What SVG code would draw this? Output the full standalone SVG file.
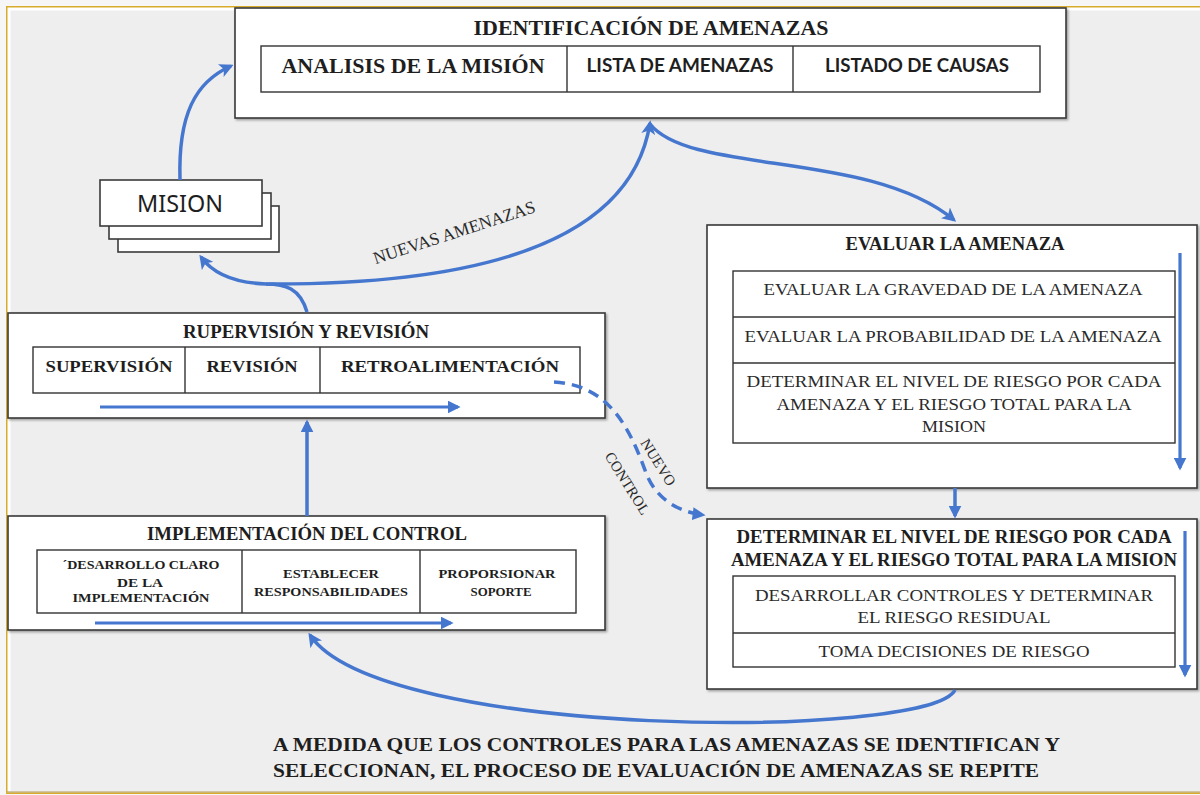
<svg xmlns="http://www.w3.org/2000/svg" width="1200" height="795" viewBox="0 0 1200 795">
<defs>
<style>
.box{fill:#ffffff;stroke:#3a3a3a;stroke-width:1.6}
.cell{fill:#ffffff;stroke:#333333;stroke-width:1.4}
.sb{font-family:"Liberation Serif",serif;font-weight:bold;fill:#1e1e1e}
.sr{font-family:"Liberation Serif",serif;fill:#2a2a2a}
.ss{font-family:Lato,"Liberation Sans",sans-serif;font-weight:bold;fill:#1e1e1e}
.conn{fill:none;stroke:#4677cf;stroke-width:3.5}
.thin{fill:none;stroke:#4677cf;stroke-width:3.2}
.dash{fill:none;stroke:#4677cf;stroke-width:3.5;stroke-dasharray:11 7}
</style>
<marker id="ah" viewBox="0 0 10 10" refX="8" refY="5" markerWidth="14" markerHeight="14" markerUnits="userSpaceOnUse" orient="auto">
<path d="M0,0 L10,5 L0,10 L2.5,5 z" fill="#4677cf"/>
</marker>
<marker id="ah2" viewBox="0 0 10 10" refX="8" refY="5" markerWidth="13" markerHeight="13" markerUnits="userSpaceOnUse" orient="auto">
<path d="M0,0 L10,5 L0,10 z" fill="#4677cf"/>
</marker>
<filter id="sh" x="-5%" y="-5%" width="110%" height="115%">
<feDropShadow dx="1.5" dy="1.5" stdDeviation="1" flood-color="#000" flood-opacity="0.35"/>
</filter>
</defs>

<!-- frame -->
<rect x="0" y="0" width="1200" height="795" fill="#f6f6f6"/>
<rect x="7" y="7" width="1200" height="786" fill="#eeeeee" stroke="#d8ac2a" stroke-width="2"/>
<path d="M9,791 L9,9 L1200,9" fill="none" stroke="#ffffff" stroke-width="3"/>
<path d="M7,792 L1200,792" stroke="#c9b78a" stroke-width="1.5"/>

<!-- Identificacion -->
<g id="identificacion">
<rect class="box" x="235" y="8" width="831" height="110" filter="url(#sh)"/>
<text class="sb" x="651" y="35" font-size="20" text-anchor="middle" textLength="355" lengthAdjust="spacingAndGlyphs">IDENTIFICACIÓN  DE AMENAZAS</text>
<rect class="cell" x="261" y="46" width="779" height="46"/>
<line x1="567" y1="46" x2="567" y2="92" stroke="#333" stroke-width="1.4"/>
<line x1="793" y1="46" x2="793" y2="92" stroke="#333" stroke-width="1.4"/>
<text class="sb" x="413" y="73" font-size="21" text-anchor="middle" textLength="263" lengthAdjust="spacingAndGlyphs">ANALISIS  DE LA MISIÓN</text>
<text class="ss" x="680" y="72" font-size="18" text-anchor="middle" textLength="187" lengthAdjust="spacingAndGlyphs">LISTA DE AMENAZAS</text>
<text class="ss" x="917" y="72" font-size="18" text-anchor="middle" textLength="184" lengthAdjust="spacingAndGlyphs">LISTADO DE CAUSAS</text>
</g>

<!-- Mision -->
<g id="mision">
<rect class="box" x="118" y="206" width="161" height="46"/>
<rect class="box" x="109" y="193" width="162" height="46"/>
<rect class="box" x="100" y="180" width="162" height="46"/>
<text x="180" y="212" font-family="'Noto Sans','Open Sans',sans-serif" font-size="24" fill="#1e1e1e" text-anchor="middle" textLength="86" lengthAdjust="spacingAndGlyphs">MISION</text>
</g>

<!-- Rupervision -->
<g id="rupervision">
<rect class="box" x="8" y="313" width="597" height="105" filter="url(#sh)"/>
<text class="sb" x="306" y="338" font-size="18" text-anchor="middle" textLength="246" lengthAdjust="spacingAndGlyphs">RUPERVISIÓN Y REVISIÓN</text>
<rect class="cell" x="33" y="347" width="547" height="46"/>
<line x1="185" y1="347" x2="185" y2="393" stroke="#333" stroke-width="1.4"/>
<line x1="320" y1="347" x2="320" y2="393" stroke="#333" stroke-width="1.4"/>
<text class="sb" x="109" y="372" font-size="17" text-anchor="middle" textLength="127" lengthAdjust="spacingAndGlyphs">SUPERVISIÓN</text>
<text class="sb" x="252" y="372" font-size="17" text-anchor="middle" textLength="91" lengthAdjust="spacingAndGlyphs">REVISIÓN</text>
<text class="sb" x="450" y="372" font-size="17" text-anchor="middle" textLength="218" lengthAdjust="spacingAndGlyphs">RETROALIMENTACIÓN</text>
<path class="thin" d="M100,407 L458,407" marker-end="url(#ah2)"/>
</g>

<!-- Implementacion -->
<g id="implementacion">
<rect class="box" x="8" y="516" width="597" height="114" filter="url(#sh)"/>
<text class="sb" x="307" y="540" font-size="19" text-anchor="middle" textLength="320" lengthAdjust="spacingAndGlyphs">IMPLEMENTACIÓN DEL CONTROL</text>
<rect class="cell" x="37" y="550" width="539" height="63"/>
<line x1="242" y1="550" x2="242" y2="613" stroke="#333" stroke-width="1.4"/>
<line x1="420" y1="550" x2="420" y2="613" stroke="#333" stroke-width="1.4"/>
<text class="sb" x="141" y="569" font-size="12.5" text-anchor="middle" textLength="157" lengthAdjust="spacingAndGlyphs">´DESARROLLO CLARO</text>
<text class="sb" x="140" y="587" font-size="12.5" text-anchor="middle" textLength="46" lengthAdjust="spacingAndGlyphs">DE  LA</text>
<text class="sb" x="141" y="602" font-size="12.5" text-anchor="middle" textLength="137" lengthAdjust="spacingAndGlyphs">IMPLEMENTACIÓN</text>
<text class="sb" x="331" y="578" font-size="12.5" text-anchor="middle" textLength="96" lengthAdjust="spacingAndGlyphs">ESTABLECER</text>
<text class="sb" x="331" y="596" font-size="12.5" text-anchor="middle" textLength="154" lengthAdjust="spacingAndGlyphs">RESPONSABILIDADES</text>
<text class="sb" x="497" y="578" font-size="12.5" text-anchor="middle" textLength="117" lengthAdjust="spacingAndGlyphs">PROPORSIONAR</text>
<text class="sb" x="501" y="596" font-size="12.5" text-anchor="middle" textLength="61" lengthAdjust="spacingAndGlyphs">SOPORTE</text>
<path class="thin" d="M95,623 L451,623" marker-end="url(#ah2)"/>
</g>

<!-- Evaluar -->
<g id="evaluar">
<rect class="box" x="707" y="225" width="490" height="263" filter="url(#sh)"/>
<text class="sb" x="955" y="250" font-size="18" text-anchor="middle" textLength="219" lengthAdjust="spacingAndGlyphs">EVALUAR LA AMENAZA</text>
<rect class="cell" x="733" y="271" width="442" height="172"/>
<line x1="733" y1="317" x2="1175" y2="317" stroke="#333" stroke-width="1.4"/>
<line x1="733" y1="363" x2="1175" y2="363" stroke="#333" stroke-width="1.4"/>
<text class="sr" x="953" y="295" font-size="17" text-anchor="middle" textLength="379" lengthAdjust="spacingAndGlyphs">EVALUAR LA GRAVEDAD DE LA AMENAZA</text>
<text class="sr" x="953" y="342" font-size="17" text-anchor="middle" textLength="417" lengthAdjust="spacingAndGlyphs">EVALUAR LA PROBABILIDAD DE LA AMENAZA</text>
<text class="sr" x="954" y="387" font-size="17" text-anchor="middle" textLength="415" lengthAdjust="spacingAndGlyphs">DETERMINAR EL NIVEL DE RIESGO POR CADA</text>
<text class="sr" x="954" y="410" font-size="17" text-anchor="middle" textLength="355" lengthAdjust="spacingAndGlyphs">AMENAZA Y EL RIESGO TOTAL  PARA LA</text>
<text class="sr" x="954" y="432" font-size="17" text-anchor="middle" textLength="64" lengthAdjust="spacingAndGlyphs">MISION</text>
<path class="thin" d="M1180,253 L1180,468" marker-end="url(#ah2)"/>
</g>

<!-- Determinar -->
<g id="determinar">
<rect class="box" x="707" y="519" width="490" height="170" filter="url(#sh)"/>
<text class="sb" x="954" y="543" font-size="18" text-anchor="middle" textLength="435" lengthAdjust="spacingAndGlyphs">DETERMINAR EL NIVEL DE RIESGO POR CADA</text>
<text class="sb" x="954" y="566" font-size="18" text-anchor="middle" textLength="446" lengthAdjust="spacingAndGlyphs">AMENAZA Y EL RIESGO TOTAL PARA LA MISION</text>
<rect class="cell" x="733" y="576" width="442" height="91"/>
<line x1="733" y1="633" x2="1175" y2="633" stroke="#333" stroke-width="1.4"/>
<text class="sr" x="954" y="601" font-size="17" text-anchor="middle" textLength="398" lengthAdjust="spacingAndGlyphs">DESARROLLAR CONTROLES Y DETERMINAR</text>
<text class="sr" x="954" y="623" font-size="17" text-anchor="middle" textLength="193" lengthAdjust="spacingAndGlyphs">EL RIESGO RESIDUAL</text>
<text class="sr" x="954" y="657" font-size="17" text-anchor="middle" textLength="271" lengthAdjust="spacingAndGlyphs">TOMA DECISIONES DE RIESGO</text>
<path class="thin" d="M1185,531 L1185,675" marker-end="url(#ah2)"/>
</g>

<!-- footer -->
<g id="nota">
<text class="sb" x="273" y="751" font-size="19" textLength="787" lengthAdjust="spacingAndGlyphs">A MEDIDA QUE LOS CONTROLES PARA LAS AMENAZAS  SE IDENTIFICAN Y</text>
<text class="sb" x="273" y="777" font-size="19" textLength="766" lengthAdjust="spacingAndGlyphs">SELECCIONAN,  EL PROCESO DE EVALUACIÓN  DE AMENAZAS  SE REPITE</text>
</g>

<!-- connectors -->
<g id="connectors">
<path class="conn" d="M180,180 C178,115 195,82 231,66" marker-end="url(#ah)"/>
<path class="conn" d="M307,312 C300,288 285,284 266,284 C238,283 214,275 201,257" marker-end="url(#ah)"/>
<path class="conn" d="M266,284 C460,285 630,250 650,123" marker-end="url(#ah)"/>
<path class="conn" d="M650,124 C690,175 870,150 954,220" marker-end="url(#ah)"/>
<path class="conn" d="M307,516 L307,422" marker-end="url(#ah2)"/>
<path class="conn" d="M955,488 L955,516" marker-end="url(#ah2)"/>
<path class="conn" d="M955,690 C930,740 380,740 310,635" marker-end="url(#ah)"/>
<path class="dash" d="M554,382 C610,385 630,430 645,470 C655,500 680,512 703,515" marker-end="url(#ah2)"/>
<text class="sr" font-size="17.5" transform="translate(456,238) rotate(-18)" text-anchor="middle">NUEVAS AMENAZAS</text>
<text class="sr" font-size="15" transform="translate(654,465) rotate(58)" text-anchor="middle">NUEVO</text>
<text class="sr" font-size="15" transform="translate(623,486) rotate(58)" text-anchor="middle">CONTROL</text>
</g>
</svg>
